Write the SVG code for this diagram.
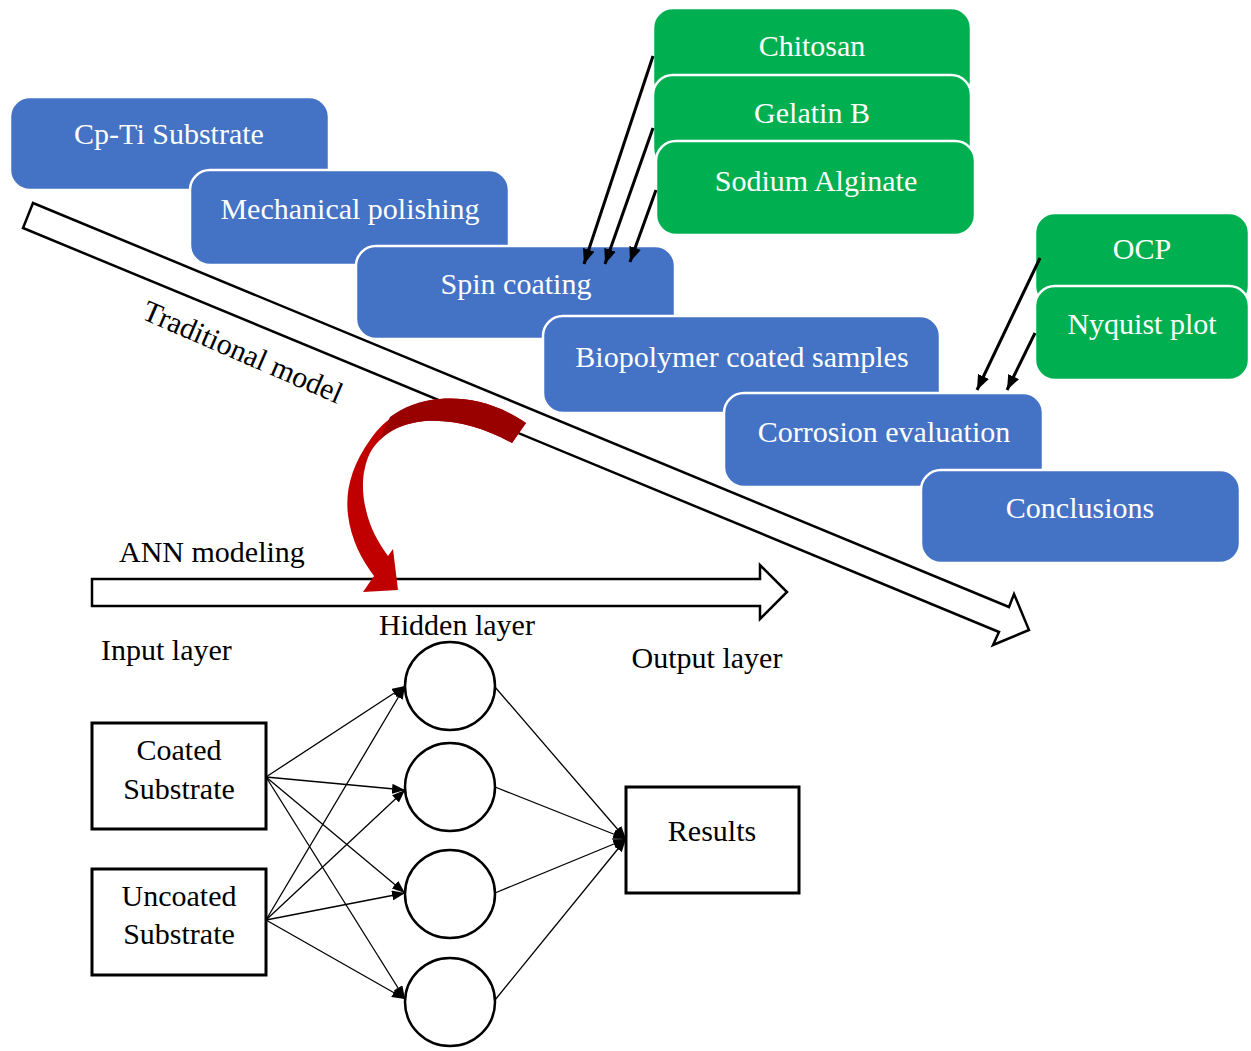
<svg xmlns="http://www.w3.org/2000/svg" width="1251" height="1051" viewBox="0 0 1251 1051">
  <style>
    text { font-family: "Liberation Serif", "Times New Roman", serif; font-size: 30px; }
    .lbl { fill: #ffffff; text-anchor: middle; }
    .dark { fill: #000000; }
    .mid { text-anchor: middle; }
    .blue { fill: #4472c4; stroke: #ffffff; stroke-width: 2.5; }
    .green { fill: #00b050; stroke: #ffffff; stroke-width: 2.5; }
    .block { fill: #ffffff; stroke: #000000; stroke-width: 2.5; stroke-linejoin: miter; }
    .feed { stroke: #000000; stroke-width: 3; fill: none; }
    .net { stroke: #000000; stroke-width: 1.3; fill: none; }
    .box { fill: #ffffff; stroke: #000000; stroke-width: 3; }
    .neuron { fill: #ffffff; stroke: #000000; stroke-width: 2.5; }
  </style>
  <defs>
    <marker id="headBold" markerUnits="userSpaceOnUse" markerWidth="15" markerHeight="12" refX="15" refY="6" orient="auto">
      <path d="M0,0 L15,6 L0,12 Z" fill="#000000"/>
    </marker>
    <marker id="headThin" markerUnits="userSpaceOnUse" markerWidth="13" markerHeight="10" refX="13" refY="5" orient="auto">
      <path d="M0,0 L13,5 L0,10 Z" fill="#000000"/>
    </marker>
  </defs>

  <!-- long diagonal block arrow for the traditional route -->
  <g id="traditional-arrow">
    <polygon class="block" points="33,203 1009,607 1014,594 1029,630 993,645 999,632 23,228"/>
    <text class="dark mid" transform="translate(243,352) rotate(23.5)" x="0" y="10">Traditional model</text>
  </g>

  <!-- process steps, each one overlapping the previous -->
  <g id="step-cpti">
    <rect class="blue" x="10" y="97" width="319" height="93" rx="20"/>
    <text class="lbl" x="169" y="144">Cp-Ti Substrate</text>
  </g>
  <g id="step-polishing">
    <rect class="blue" x="190" y="170" width="319" height="95" rx="20"/>
    <text class="lbl" x="350" y="219">Mechanical polishing</text>
  </g>
  <g id="step-spin">
    <rect class="blue" x="356" y="246" width="319" height="93" rx="20"/>
    <text class="lbl" x="516" y="294">Spin coating</text>
  </g>
  <g id="step-biopolymer">
    <rect class="blue" x="543" y="316" width="397" height="97" rx="20"/>
    <text class="lbl" x="742" y="367">Biopolymer coated samples</text>
  </g>
  <g id="step-corrosion">
    <rect class="blue" x="724" y="393" width="319" height="94" rx="20"/>
    <text class="lbl" x="884" y="442">Corrosion evaluation</text>
  </g>
  <g id="step-conclusions">
    <rect class="blue" x="921" y="470" width="319" height="93" rx="20"/>
    <text class="lbl" x="1080" y="518">Conclusions</text>
  </g>

  <!-- coating materials -->
  <g id="mat-chitosan">
    <rect class="green" x="653" y="8" width="318" height="93" rx="20"/>
    <text class="lbl" x="812" y="56">Chitosan</text>
  </g>
  <g id="mat-gelatin">
    <rect class="green" x="653" y="75" width="318" height="93" rx="20"/>
    <text class="lbl" x="812" y="123">Gelatin B</text>
  </g>
  <g id="mat-alginate">
    <rect class="green" x="656" y="141" width="319" height="94" rx="20"/>
    <text class="lbl" x="816" y="191">Sodium Alginate</text>
  </g>

  <!-- electrochemical tests -->
  <g id="test-ocp">
    <rect class="green" x="1035" y="213" width="214" height="93" rx="20"/>
    <text class="lbl" x="1142" y="259">OCP</text>
  </g>
  <g id="test-nyquist">
    <rect class="green" x="1035" y="286" width="214" height="94" rx="20"/>
    <text class="lbl" x="1142" y="334">Nyquist plot</text>
  </g>

  <!-- ANN block arrow -->
  <g id="ann-arrow">
    <polygon class="block" points="92,579 760,579 760,565 787,592 760,619 760,606 92,606"/>
    <text class="dark" x="119" y="562">ANN modeling</text>
  </g>

  <!-- curved transfer arrow from the traditional route to the ANN -->
  <g id="transfer-arrow">
    <path fill="#c00000" d="M526,423 C495,402 465,397 440,399 C410,401 385,418 370,440 C352,465 345,490 348,515 C351,540 362,560 374,576 L363,592 L398,590 L393,549 L388,556 C378,542 370,528 366,510 C361,490 362,470 370,453 C380,435 400,423 425,421 C455,419 485,428 512,443 Z"/>
    <path fill="#990000" d="M526,423 C495,402 465,397 440,399 C420,400 402,408 390,417 L380,440 C388,430 405,423 425,421 C455,419 485,428 512,443 Z"/>
  </g>

  <!-- network layers -->
  <g id="layer-labels">
    <text class="dark" x="101" y="660">Input layer</text>
    <text class="dark mid" x="457" y="635">Hidden layer</text>
    <text class="dark mid" x="707" y="668">Output layer</text>
  </g>
  <g id="input-coated">
    <rect class="box" x="92" y="723" width="174" height="106"/>
    <text class="dark mid" x="179" y="760">Coated</text>
    <text class="dark mid" x="179" y="799">Substrate</text>
  </g>
  <g id="input-uncoated">
    <rect class="box" x="92" y="869" width="174" height="106"/>
    <text class="dark mid" x="179" y="906">Uncoated</text>
    <text class="dark mid" x="179" y="944">Substrate</text>
  </g>
  <g id="hidden-1"><ellipse class="neuron" cx="450" cy="686" rx="45" ry="44"/></g>
  <g id="hidden-2"><ellipse class="neuron" cx="450" cy="787" rx="45" ry="44"/></g>
  <g id="hidden-3"><ellipse class="neuron" cx="450" cy="894" rx="45" ry="44"/></g>
  <g id="hidden-4"><ellipse class="neuron" cx="450" cy="1002" rx="45" ry="44"/></g>
  <g id="output-results">
    <rect class="box" x="626" y="787" width="173" height="106"/>
    <text class="dark mid" x="712" y="841">Results</text>
  </g>

  <!-- connectors -->
  <g id="connectors">
    <line class="feed" x1="653" y1="56" x2="584" y2="264" marker-end="url(#headBold)"/>
    <line class="feed" x1="653" y1="128" x2="605" y2="264" marker-end="url(#headBold)"/>
    <line class="feed" x1="656" y1="190" x2="630" y2="262" marker-end="url(#headBold)"/>
    <line class="feed" x1="1040" y1="258" x2="977" y2="390" marker-end="url(#headBold)"/>
    <line class="feed" x1="1035" y1="333" x2="1007" y2="390" marker-end="url(#headBold)"/>

    <line class="net" x1="266" y1="777" x2="405" y2="686" marker-end="url(#headThin)"/>
    <line class="net" x1="266" y1="777" x2="405" y2="790" marker-end="url(#headThin)"/>
    <line class="net" x1="266" y1="777" x2="405" y2="893" marker-end="url(#headThin)"/>
    <line class="net" x1="266" y1="777" x2="405" y2="999" marker-end="url(#headThin)"/>
    <line class="net" x1="266" y1="920" x2="405" y2="686" marker-end="url(#headThin)"/>
    <line class="net" x1="266" y1="920" x2="405" y2="790" marker-end="url(#headThin)"/>
    <line class="net" x1="266" y1="920" x2="405" y2="893" marker-end="url(#headThin)"/>
    <line class="net" x1="266" y1="920" x2="405" y2="999" marker-end="url(#headThin)"/>

    <line class="net" x1="495" y1="687" x2="626" y2="839" marker-end="url(#headThin)"/>
    <line class="net" x1="495" y1="787" x2="626" y2="839" marker-end="url(#headThin)"/>
    <line class="net" x1="495" y1="893" x2="626" y2="839" marker-end="url(#headThin)"/>
    <line class="net" x1="495" y1="1000" x2="626" y2="839" marker-end="url(#headThin)"/>
  </g>
</svg>
